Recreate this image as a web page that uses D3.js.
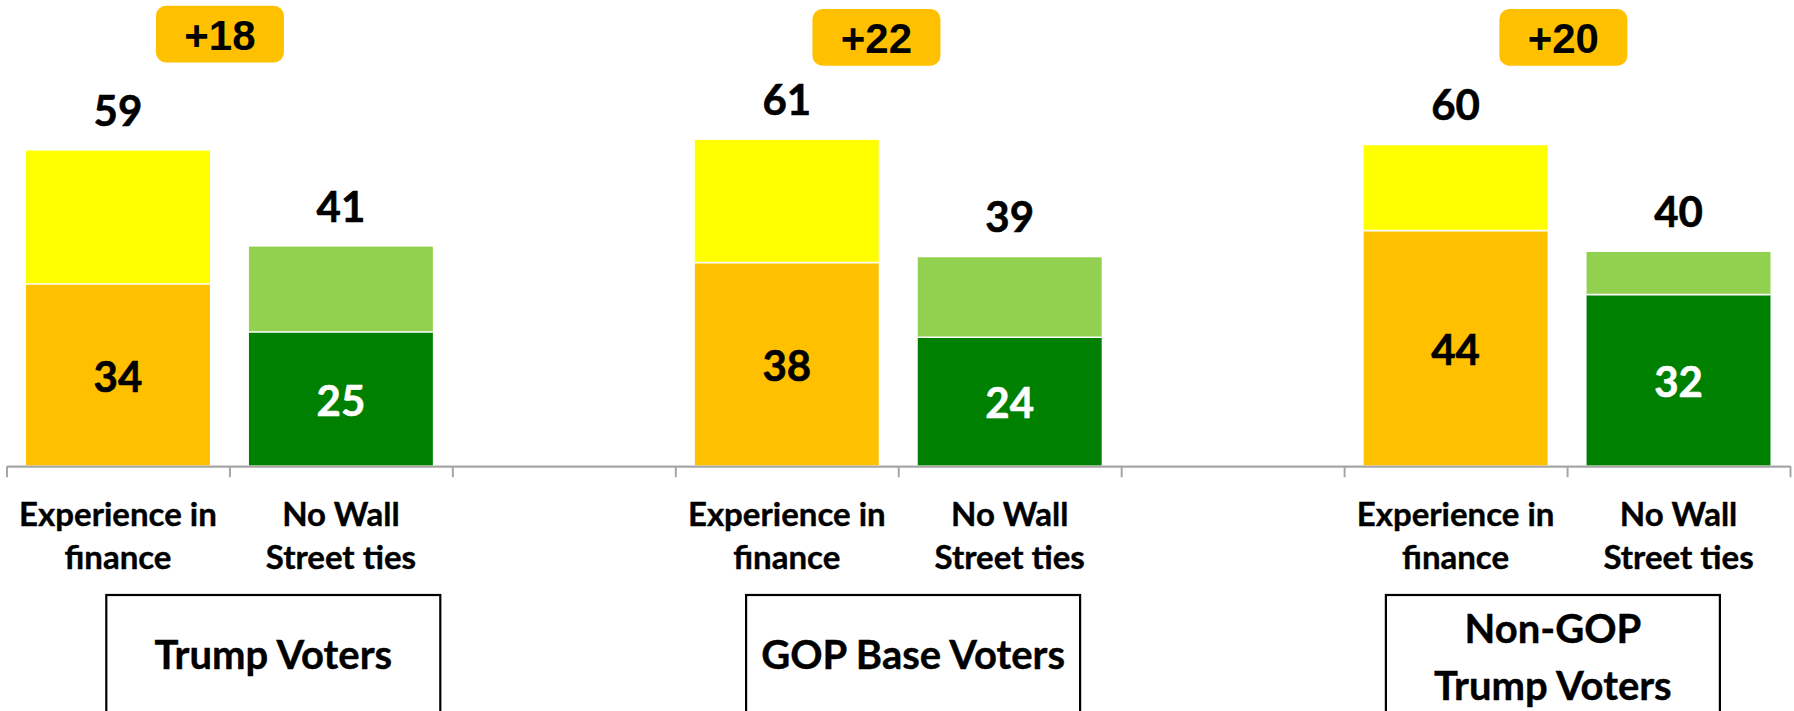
<!DOCTYPE html>
<html>
<head>
<meta charset="utf-8">
<script src="https://cdn.jsdelivr.net/npm/d3@7"></script>
<style>
  html, body { margin: 0; padding: 0; background: #fff; }
  svg { display: block; }
</style>
</head>
<body>
<svg id="chart" width="1794" height="711"></svg>
<script>
// ---------------- data ----------------
const groups = ["Trump Voters", "GOP Base Voters", "Non-GOP Trump Voters"];
const groupLines = [["Trump Voters"], ["GOP Base Voters"], ["Non-GOP", "Trump Voters"]];
const measures = ["Experience in finance", "No Wall Street ties"];
const measureLines = [["Experience in", "finance"], ["No Wall", "Street ties"]];
const financeTotal = [59, 61, 60];
const financeStrong = [34, 38, 44];
const wallStTotal = [41, 39, 40];
const wallStStrong = [25, 24, 32];
const gapLabels = ["+18", "+22", "+20"];

// ---------------- layout ----------------
const W = 1794, H = 711;
const svg = d3.select("#chart");
const FONT = "Lato, 'Open Sans', sans-serif";

const colors = {
  "Experience in finance": { strong: "#FFC000", soft: "#FFFF00", label: "#000000" },
  "No Wall Street ties":   { strong: "#008000", soft: "#92D050", label: "#FFFFFF" }
};

// 8 slots: two bars per group, one empty slot between groups
const nSlots = 8;
const rows = [];
groups.forEach((g, gi) => {
  rows.push({ group: g, gi, mi: 0, measure: measures[0], total: financeTotal[gi], strong: financeStrong[gi], slot: gi * 3 });
  rows.push({ group: g, gi, mi: 1, measure: measures[1], total: wallStTotal[gi], strong: wallStStrong[gi], slot: gi * 3 + 1 });
});

const x = d3.scaleBand().domain(d3.range(nSlots)).range([6.5, 1790])
  .paddingInner(0.175).paddingOuter(0.0875);
const xEdge = d3.scaleLinear().domain([0, nSlots]).range([6.5, 1790]);
const y = d3.scaleLinear().domain([0, 100]).range([465.3, -68.1]);

// axis
const axis = d3.axisBottom(xEdge).tickValues(d3.range(nSlots + 1)).tickFormat("").tickSize(11).tickSizeOuter(0);
const ag = svg.append("g").attr("transform", "translate(0,466.2)").call(axis);
ag.select(".domain").attr("stroke", "#A6A6A6").attr("stroke-width", 2.2);
ag.selectAll(".tick line").attr("stroke", "#A6A6A6").attr("stroke-width", 2);

// bars
const bars = svg.append("g").selectAll("g").data(rows).join("g");
bars.append("rect")
  .attr("x", d => x(d.slot)).attr("width", x.bandwidth())
  .attr("y", d => y(d.strong)).attr("height", d => y(0) - y(d.strong))
  .attr("fill", d => colors[d.measure].strong);
bars.append("rect")
  .attr("x", d => x(d.slot)).attr("width", x.bandwidth())
  .attr("y", d => y(d.total)).attr("height", d => y(d.strong) - y(d.total))
  .attr("fill", d => colors[d.measure].soft);
bars.append("line")
  .attr("x1", d => x(d.slot)).attr("x2", d => x(d.slot) + x.bandwidth())
  .attr("y1", d => y(d.strong)).attr("y2", d => y(d.strong))
  .attr("stroke", "#FFFFFF").attr("stroke-width", 1.6);

// total labels
bars.append("text")
  .attr("x", d => x(d.slot) + x.bandwidth() / 2)
  .attr("y", d => y(d.total) - 25)
  .attr("text-anchor", "middle")
  .attr("font-family", FONT).attr("font-weight", 700).attr("font-size", 42)
  .attr("fill", "#000").attr("stroke", "#000").attr("stroke-width", 0.6)
  .text(d => d.total);

// inner labels
bars.append("text")
  .attr("x", d => x(d.slot) + x.bandwidth() / 2)
  .attr("y", d => (y(d.strong) + y(0)) / 2 + 17)
  .attr("text-anchor", "middle")
  .attr("font-family", FONT).attr("font-weight", 700).attr("font-size", 42)
  .attr("fill", d => colors[d.measure].label)
  .attr("stroke", d => colors[d.measure].label).attr("stroke-width", 0.6)
  .text(d => d.strong);

// category labels
const cat = svg.append("g").selectAll("text").data(rows).join("text")
  .attr("text-anchor", "middle")
  .attr("font-family", FONT).attr("font-weight", 700).attr("font-size", 33)
  .attr("fill", "#000").attr("stroke", "#000").attr("stroke-width", 0.4)
  .attr("transform", d => `translate(${x(d.slot) + x.bandwidth() / 2},526)`);
cat.selectAll("tspan").data(d => measureLines[d.mi]).join("tspan")
  .attr("x", 0).attr("y", (t, i) => i * 43.3).text(t => t);

// gap bubbles
const bubbleDx = [-9.5, -21.8, -3.7];
const bubbleY = [5.7, 9.1, 9.1];
const bub = svg.append("g").selectAll("g").data(groups).join("g")
  .attr("transform", (g, i) => `translate(${xEdge(i * 3 + 1) + bubbleDx[i]},${bubbleY[i]})`);
bub.append("rect")
  .attr("x", -64).attr("width", 128).attr("y", 0).attr("height", 56.7)
  .attr("rx", 10).attr("ry", 10).attr("fill", "#FFC000");
bub.append("text")
  .attr("x", 0).attr("y", 44.3).attr("text-anchor", "middle")
  .attr("font-family", "'Liberation Sans', Arial, sans-serif").attr("font-weight", 700).attr("font-size", 42)
  .attr("fill", "#000")
  .text((g, i) => gapLabels[i]);

// group boxes
const boxX = d3.scalePoint().domain(groups).range([273.3, 1552.9]);
const boxW = 334;
const box = svg.append("g").selectAll("g").data(groups).join("g")
  .attr("transform", g => `translate(${boxX(g)},0)`);
box.append("rect")
  .attr("x", -boxW / 2).attr("width", boxW).attr("y", 595).attr("height", 140)
  .attr("fill", "none").attr("stroke", "#000").attr("stroke-width", 2.2);
const bt = box.append("text").attr("text-anchor", "middle")
  .attr("font-family", FONT).attr("font-weight", 700).attr("font-size", 40)
  .attr("fill", "#000").attr("stroke", "#000").attr("stroke-width", 0.4);
bt.selectAll("tspan").data((g, i) => groupLines[i].map((t, j, arr) => ({ t, j, n: arr.length }))).join("tspan")
  .attr("x", 0)
  .attr("y", d => d.n === 1 ? 669 : 643.3 + d.j * 56.7)
  .text(d => d.t);
</script>
</body>
</html>
